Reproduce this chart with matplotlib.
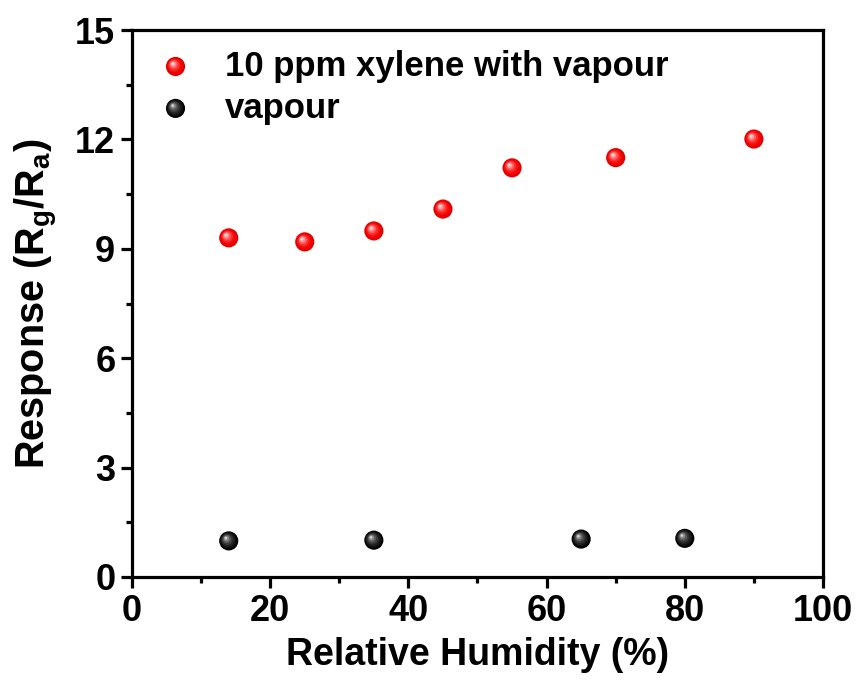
import matplotlib
matplotlib.use("Agg")
import matplotlib.pyplot as plt
import matplotlib.transforms as mtrans
from matplotlib.ticker import MultipleLocator

humidity_xylene = [14, 25, 35, 45, 55, 70, 90]
response_xylene = [9.30, 9.19, 9.49, 10.09, 11.22, 11.50, 12.01]
humidity_vapour = [14, 35, 65, 80]
response_vapour = [0.99, 1.01, 1.04, 1.06]
labels = ["10 ppm xylene with vapour", "vapour"]

plt.rcParams['font.family'] = ['Liberation Sans', 'DejaVu Sans']
plt.rcParams['font.weight'] = 'bold'
plt.rcParams['mathtext.fontset'] = 'custom'
plt.rcParams['mathtext.rm'] = 'Liberation Sans:bold'
plt.rcParams['mathtext.it'] = 'Liberation Sans:bold'
plt.rcParams['mathtext.bf'] = 'Liberation Sans:bold'

fig = plt.figure(figsize=(8.61, 6.97), dpi=100)
ax = fig.add_axes([132/861, 1-577/697, 691/861, 547/697])

def sphere(ax, x, y, base, shades, s=190):
    ax.scatter(x, y, s=s, color=base, edgecolors='none', zorder=3)
    n = len(shades)
    for i, c in enumerate(shades):
        f = 1 - (i + 1) / (n + 1)
        off = mtrans.ScaledTranslation(-0.033 * (1 - f), 0.033 * (1 - f), fig.dpi_scale_trans)
        ax.scatter(x, y, s=s * f * f, color=c, edgecolors='none', zorder=3 + i * 0.01,
                   transform=ax.transData + off)

red_shades = ['#f20000', '#f81010', '#fb3030', '#fd6060', '#fe9a9a', '#ffd8d8']
blk_shades = ['#111111', '#222222', '#3a3a3a', '#5a5a5a', '#8a8a8a', '#d0d0d0']

sphere(ax, humidity_xylene, response_xylene, '#e00000', red_shades)
sphere(ax, humidity_vapour, response_vapour, '#000000', blk_shades)

ax.set_xlim(0, 100)
ax.set_ylim(0, 15)
ax.xaxis.set_major_locator(MultipleLocator(20))
ax.xaxis.set_minor_locator(MultipleLocator(10))
ax.yaxis.set_major_locator(MultipleLocator(3))
ax.yaxis.set_minor_locator(MultipleLocator(1.5))
for sp in ax.spines.values():
    sp.set_linewidth(2.3)
ax.tick_params(which='major', direction='out', length=8, width=2.3, labelsize=26, pad=4)
ax.tick_params(which='minor', direction='out', length=4.5, width=2.3)
ax.tick_params(top=False, right=False, which='both')

ax.set_xlabel("Relative Humidity (%)", fontsize=27, fontweight='bold', labelpad=6)
ax.set_ylabel(r"Response (R$_\mathregular{g}$/R$_\mathregular{a}$)", fontsize=28.5, fontweight='bold', labelpad=11)

# legend
for i, (lab, base, shades) in enumerate([(labels[0], '#e00000', red_shades),
                                          (labels[1], '#000000', blk_shades)]):
    yy = 14.0 - i * 1.15
    sphere(ax, [6.3], [yy], base, shades)
    ax.text(13.5, yy, lab, fontsize=25, fontweight='bold', va='center', ha='left')

fig.savefig("out.png", dpi=100)
